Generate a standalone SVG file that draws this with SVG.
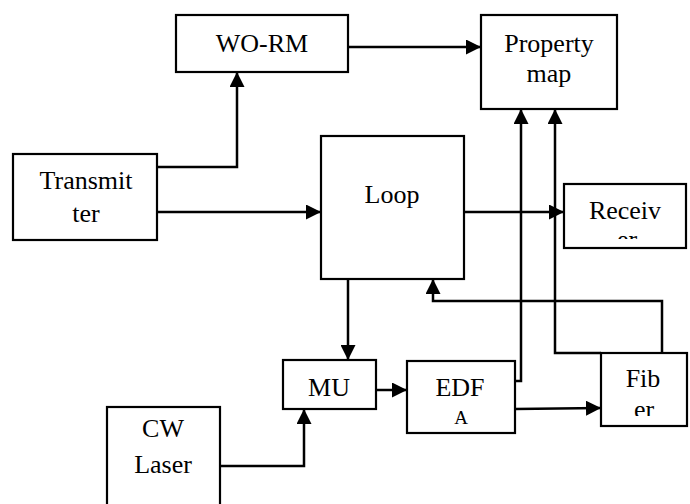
<svg xmlns="http://www.w3.org/2000/svg" width="690" height="504" viewBox="0 0 690 504">
<style>
.box{fill:#fff;stroke:#000;stroke-width:2.2}
text{font-family:'Liberation Serif','Times New Roman',Times,serif;font-size:26px;fill:#000;text-anchor:middle}
.c{fill:none;stroke:#000;stroke-width:2.5;marker-end:url(#ah)}
</style>
<defs>
<marker id="ah" markerWidth="15" markerHeight="15" refX="15" refY="7.5" orient="auto" markerUnits="userSpaceOnUse"><path d="M0,0 L15,7.5 L0,15 z" fill="#000"/></marker>
<clipPath id="clipRx"><rect x="564" y="184" width="122" height="55"/></clipPath>
<clipPath id="clipFib"><rect x="601" y="353" width="86" height="63"/></clipPath>
</defs>
<rect width="690" height="504" fill="#fff"/>
<g id="transmitter"><rect class="box" x="13" y="154" width="144" height="86"/><text x="86" y="189" font-family="Liberation Serif, serif">Transmit</text><text x="86" y="222" font-family="Liberation Serif, serif">ter</text></g>
<g id="worm"><rect class="box" x="176" y="15" width="172" height="57"/><text x="262" y="52" font-family="Liberation Serif, serif">WO-RM</text></g>
<g id="property"><rect class="box" x="481" y="15" width="136" height="94"/><text x="549" y="52" font-family="Liberation Serif, serif">Property</text><text x="549" y="82" font-family="Liberation Serif, serif">map</text></g>
<g id="loop"><rect class="box" x="321" y="136" width="143" height="143"/><text x="392" y="203" font-family="Liberation Serif, serif">Loop</text></g>
<g id="receiver"><rect class="box" x="564" y="184" width="122" height="64"/><text x="625" y="219" font-family="Liberation Serif, serif">Receiv</text><text x="627" y="248" clip-path="url(#clipRx)" font-family="Liberation Serif, serif">er</text></g>
<g id="mu"><rect class="box" x="283" y="360" width="93" height="49"/><text x="329" y="396" font-family="Liberation Serif, serif">MU</text></g>
<g id="edfa"><rect class="box" x="407" y="361" width="108" height="72"/><text x="460" y="396" font-family="Liberation Serif, serif">EDF</text><text x="461" y="424" style="font-size:19px" font-family="Liberation Serif, serif">A</text></g>
<g id="fiber"><rect class="box" x="601" y="353" width="86" height="73"/><text x="643" y="387" font-family="Liberation Serif, serif">Fib</text><text x="644" y="418" clip-path="url(#clipFib)" font-family="Liberation Serif, serif">er</text></g>
<g id="cwlaser"><rect class="box" x="107" y="407" width="113" height="110"/><text x="163" y="437" font-family="Liberation Serif, serif">CW</text><text x="163" y="473" font-family="Liberation Serif, serif">Laser</text></g>
<g id="connectors">
<path class="c" d="M157,167 H237 V72"/>
<path class="c" d="M157,212 H321"/>
<path class="c" d="M348,47 H481"/>
<path class="c" d="M464,212 H564"/>
<path class="c" d="M348,279 V360"/>
<path class="c" d="M220,466 H304 V409"/>
<path class="c" d="M376,390 H407"/>
<path class="c" d="M515,381 H521 V109"/>
<path class="c" d="M515,409 L601,408"/>
<path class="c" d="M662,353 V301 H433 V279"/>
<path class="c" d="M601,353 H555 V109"/>
</g>
</svg>
